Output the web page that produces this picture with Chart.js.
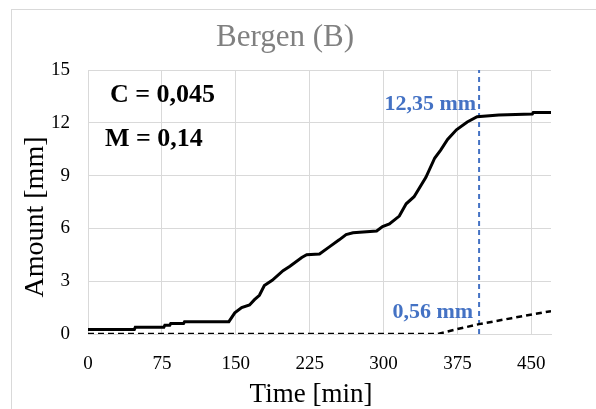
<!DOCTYPE html>
<html>
<head>
<meta charset="utf-8">
<script src="https://cdn.jsdelivr.net/npm/chart.js@4.4.0/dist/chart.umd.min.js"></script>
<style>
    html, body { margin: 0; padding: 0; background: #fff; }
    #wrap { position: relative; width: 596px; height: 409px; }
</style>
</head>
<body>
<div id="wrap"><canvas id="chart" width="596" height="409"></canvas></div>
<script>
// solid curve: cumulative amount [mm] over time [min]
const amountTime = [0, 47, 48, 77, 78, 83, 84, 97, 98, 143, 149, 156, 164, 169, 174, 179, 187, 198, 205, 217, 222, 235, 245, 255, 262, 269, 293, 299, 306, 316, 323, 331, 343, 352, 358, 365, 374, 385, 395, 417, 451, 452, 470];
const amountValues = [0.25, 0.25, 0.38, 0.38, 0.5, 0.5, 0.6, 0.6, 0.7, 0.7, 1.2, 1.5, 1.65, 1.95, 2.2, 2.75, 3.05, 3.6, 3.85, 4.35, 4.5, 4.55, 4.95, 5.35, 5.65, 5.75, 5.85, 6.1, 6.25, 6.7, 7.4, 7.8, 8.9, 10.0, 10.45, 11.05, 11.6, 12.05, 12.35, 12.45, 12.5, 12.58, 12.58];

// dashed curve
const secondTime = [0, 355, 362, 375, 397, 430, 470];
const secondValues = [0, 0, 0.1, 0.28, 0.56, 0.9, 1.3];

// marker line
const markerTime = 397;
const markerLabels = ['12,35 mm', '0,56 mm'];
const markerValues = [12.35, 0.56];

const xTicks = [0, 75, 150, 225, 300, 375, 450];
const yTicks = [0, 3, 6, 9, 12, 15];

const chartTitle = 'Bergen (B)';
const xTitle = 'Time [min]';
const yTitle = 'Amount [mm]';
const notes = ['C = 0,045', 'M = 0,14'];

const serif = '"Liberation Serif", "Times New Roman", serif';
const blue = '#4472C4';

const toPoints = (xs, ys) => xs.map((x, i) => ({ x, y: ys[i] }));

const textPlugin = {
    id: 'texts',
    beforeDraw(chart) {
        const { ctx } = chart;
        ctx.save();
        ctx.strokeStyle = '#d9d9d9';
        ctx.lineWidth = 1;
        ctx.strokeRect(11.5, 9.5, 620, 430);
        ctx.restore();
    },
    afterDraw(chart) {
        const { ctx, scales: { x, y } } = chart;
        ctx.save();
        ctx.textBaseline = 'middle';

        ctx.fillStyle = '#808080';
        ctx.textAlign = 'center';
        ctx.font = '31px ' + serif;
        ctx.fillText(chartTitle, 285, 38);

        ctx.fillStyle = '#000';
        ctx.font = '27px ' + serif;
        ctx.fillText(xTitle, 311, 395);

        ctx.save();
        ctx.translate(36, 217);
        ctx.rotate(-Math.PI / 2);
        ctx.font = '28px ' + serif;
        ctx.fillText(yTitle, 0, 0);
        ctx.restore();

        ctx.textAlign = 'left';
        ctx.font = 'bold 26px ' + serif;
        ctx.fillText(notes[0], 110, 95);
        ctx.fillText(notes[1], 105, 139);

        ctx.fillStyle = blue;
        ctx.textAlign = 'right';
        ctx.font = 'bold 22px ' + serif;
        const mx = x.getPixelForValue(markerTime);
        ctx.fillText(markerLabels[0], mx - 3, y.getPixelForValue(markerValues[0]) - 12);
        ctx.fillText(markerLabels[1], mx - 6, y.getPixelForValue(markerValues[1]) - 12);
        ctx.restore();
    }
};

new Chart(document.getElementById('chart'), {
    type: 'line',
    data: {
        datasets: [
            {
                data: toPoints(amountTime, amountValues),
                borderColor: '#000',
                borderWidth: 3,
                pointRadius: 0,
                tension: 0,
            },
            {
                data: toPoints(secondTime, secondValues),
                borderColor: '#000',
                borderWidth: 2.5,
                borderDash: [6, 4],
                pointRadius: 0,
                tension: 0,
            },
            {
                data: [{ x: markerTime, y: 0 }, { x: markerTime, y: 15 }],
                borderColor: blue,
                borderWidth: 2,
                borderDash: [5, 4],
                pointRadius: 0,
            },
        ],
    },
    options: {
        responsive: false,
        animation: false,
        events: [],
        layout: { padding: { left: 0, top: 70, right: 45, bottom: 0 } },
        plugins: {
            legend: { display: false },
            tooltip: { enabled: false },
        },
        scales: {
            x: {
                type: 'linear',
                min: 0,
                max: 470,
                afterFit: s => { s.height = 75; },
                afterBuildTicks: s => { s.ticks = xTicks.map(v => ({ value: v })); },
                grid: { color: '#d9d9d9', drawTicks: false },
                border: { color: '#d9d9d9' },
                ticks: {
                    padding: 19,
                    maxRotation: 0,
                    color: '#000',
                    font: { family: serif, size: 19 },
                },
            },
            y: {
                min: 0,
                max: 15,
                afterFit: s => { s.width = 88; },
                afterBuildTicks: s => { s.ticks = yTicks.map(v => ({ value: v })); },
                grid: { color: '#d9d9d9', drawTicks: false },
                border: { color: '#d9d9d9' },
                ticks: {
                    padding: 18,
                    color: '#000',
                    font: { family: serif, size: 19 },
                },
            },
        },
    },
    plugins: [textPlugin],
});
</script>
</body>
</html>
